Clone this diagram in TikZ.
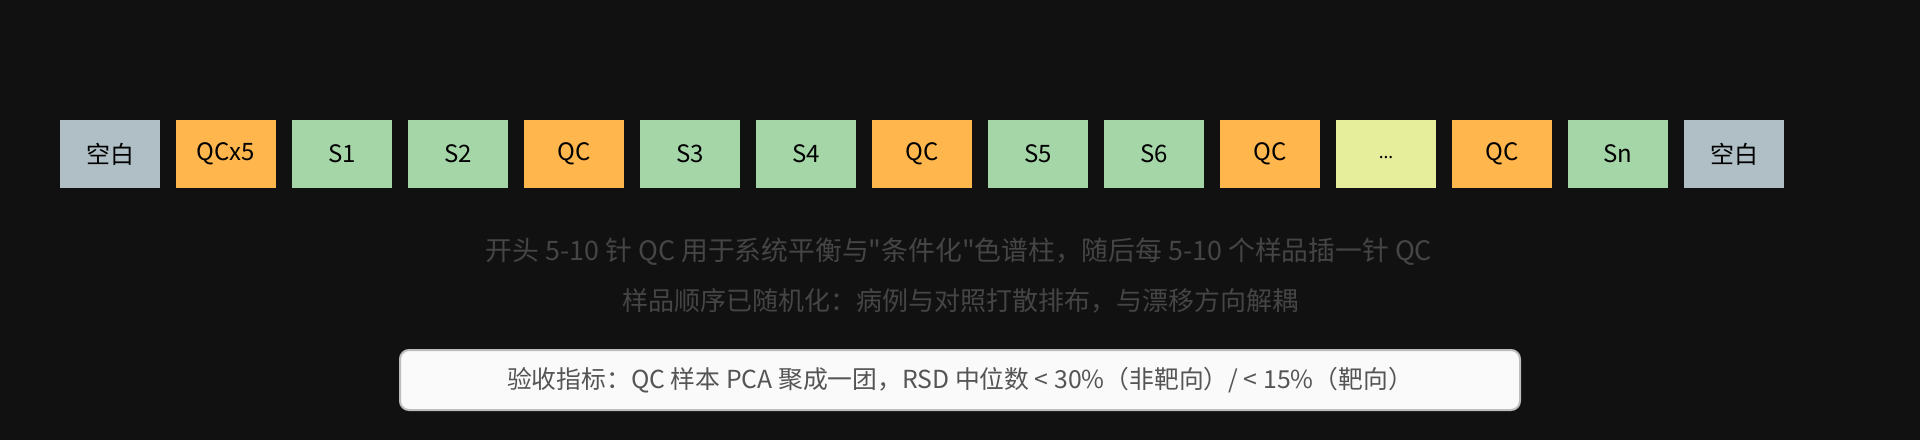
\documentclass[tikz,border=0pt]{standalone}
\usepackage{fontspec}
\setmainfont{Noto Sans CJK SC}
\newfontfamily\latinf{Noto Sans}
\newfontfamily\rawf{Noto Sans CJK SC}
\newcommand\dqt{{\rawf\symbol{34}}}
\definecolor{bg}{HTML}{111111}
\definecolor{cblank}{HTML}{B0BEC5}
\definecolor{cqc}{HTML}{FFB74D}
\definecolor{csam}{HTML}{A5D6A7}
\definecolor{cdots}{HTML}{E6EE9C}
\definecolor{note}{HTML}{454545}
\definecolor{crit}{HTML}{555555}
\definecolor{critbd}{HTML}{BDBDBD}
\definecolor{critfill}{HTML}{FAFAFA}
\begin{document}
\begin{tikzpicture}[x=1pt,y=1pt,
  slot/.style={minimum width=100pt,minimum height=68pt,inner sep=0pt,
    font=\fontsize{24}{28}\selectfont,text=black},
  blank/.style={slot,fill=cblank},
  qc/.style={slot,fill=cqc},
  sam/.style={slot,fill=csam},
  more/.style={slot,fill=cdots},
  notetext/.style={font=\fontsize{26}{30}\selectfont,text=note,inner sep=0pt},
  critbox/.style={draw=critbd,line width=2pt,fill=critfill,rounded corners=9pt,
    minimum width=1120pt,minimum height=60pt,inner sep=0pt,
    font=\fontsize{24.8}{28}\selectfont,text=crit}]
\fill[bg] (0,0) rectangle (1920,-440);
\useasboundingbox (0,0) rectangle (1920,-440);
\node[blank] (b1) at (110,-154) {空白};
\node[qc]    (q0) at (226,-154) {QCx5};
\node[sam]   (s1) at (342,-154) {S1};
\node[sam]   (s2) at (458,-154) {S2};
\node[qc]    (q1) at (574,-154) {QC};
\node[sam]   (s3) at (690,-154) {S3};
\node[sam]   (s4) at (806,-154) {S4};
\node[qc]    (q2) at (922,-154) {QC};
\node[sam]   (s5) at (1038,-154) {S5};
\node[sam]   (s6) at (1154,-154) {S6};
\node[qc]    (q3) at (1270,-154) {QC};
\node[more]  (dd) at (1386,-154) {\latinf\fontsize{18}{22}\selectfont\strut...};
\node[qc]    (q4) at (1502,-154) {QC};
\node[sam]   (sn) at (1618,-154) {Sn};
\node[blank] (b2) at (1734,-154) {空白};
\node[notetext,font=\fontsize{26.8}{30}\selectfont] (l1) at (959,-252) {开头 5-10 针 QC 用于系统平衡与\dqt 条件化\dqt 色谱柱，随后每 5-10 个样品插一针 QC};
\node[notetext] (l2) at (960,-301) {样品顺序已随机化：病例与对照打散排布，与漂移方向解耦};
\node[critbox] (cr) at (960,-380) {验收指标：QC 样本 PCA 聚成一团，RSD 中位数 < 30\%（非靶向）/ < 15\%（靶向）};
\end{tikzpicture}
\end{document}
